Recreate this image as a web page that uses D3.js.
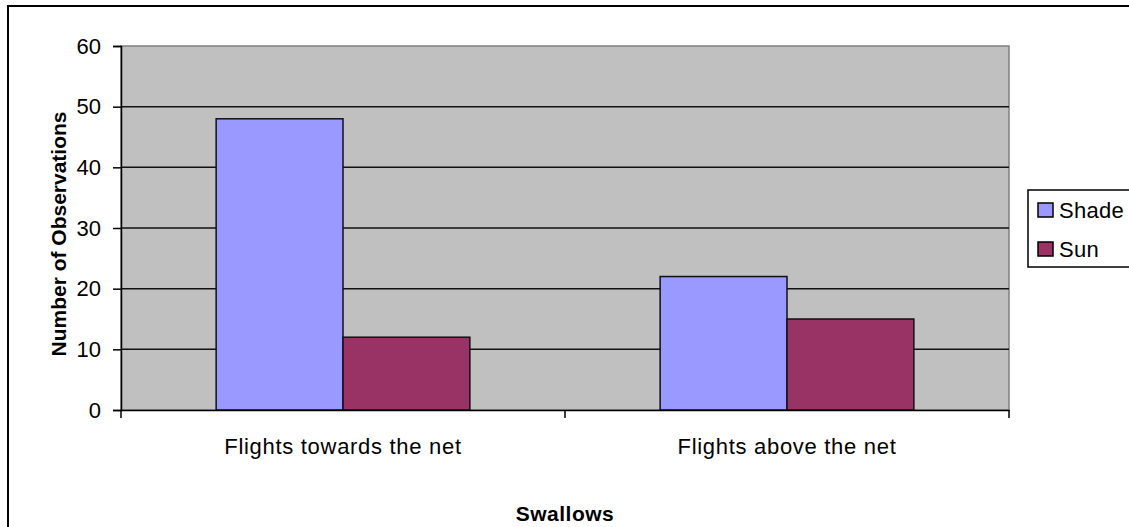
<!DOCTYPE html>
<html>
<head>
<meta charset="utf-8">
<script src="https://cdn.jsdelivr.net/npm/d3@7"></script>
<style>
  html, body { margin: 0; padding: 0; background: #fff; overflow: hidden; }
  svg { display: block; font-family: "Liberation Sans", Arial, sans-serif; }
</style>
</head>
<body>
<svg id="chart" width="1129" height="527"></svg>
<script>
// Swallow flight observations by light condition
const categories = ["Flights towards the net", "Flights above the net"];
const seriesNames = ["Shade", "Sun"];
const shadeValues = [48, 22];
const sunValues = [12, 15];
const yTicks = [0, 10, 20, 30, 40, 50, 60];
const seriesColors = ["#9999ff", "#993366"];

const FONT = "Liberation Sans, Arial, sans-serif";
const svg = d3.select("#chart");
const plot = { left: 121, right: 1009, top: 46, bottom: 410 };

// outer chart frame (runs off the right and bottom edges)
svg.append("rect")
  .attr("x", 8).attr("y", 6)
  .attr("width", 1200).attr("height", 600)
  .attr("fill", "#fff").attr("stroke", "#000").attr("stroke-width", 2);

const x0 = d3.scaleBand().domain(categories).range([plot.left, plot.right]).paddingInner(0).paddingOuter(0);
const x1 = d3.scaleBand().domain(seriesNames).range([0, x0.bandwidth()]).paddingInner(0).paddingOuter(0.75);
const y = d3.scaleLinear().domain([0, 60]).range([plot.bottom, plot.top]);

// plot background
svg.append("rect")
  .attr("x", plot.left).attr("y", plot.top)
  .attr("width", plot.right - plot.left).attr("height", plot.bottom - plot.top)
  .attr("fill", "#c0c0c0").attr("stroke", "#808080").attr("stroke-width", 1.5);

// gridlines
svg.append("g").selectAll("line")
  .data(yTicks.filter(d => d > 0 && d < 60))
  .join("line")
  .attr("x1", plot.left).attr("x2", plot.right)
  .attr("y1", d => y(d)).attr("y2", d => y(d))
  .attr("stroke", "#111").attr("stroke-width", 1.5);

// bars
const rows = categories.map((c, i) => ({ cat: c, vals: [shadeValues[i], sunValues[i]] }));
const groups = svg.append("g").selectAll("g")
  .data(rows).join("g")
  .attr("transform", d => `translate(${x0(d.cat)},0)`);
groups.selectAll("rect")
  .data(d => d.vals.map((v, j) => ({ name: seriesNames[j], v, j })))
  .join("rect")
  .attr("x", d => x1(d.name))
  .attr("y", d => y(d.v))
  .attr("width", x1.bandwidth())
  .attr("height", d => y(0) - y(d.v))
  .attr("fill", d => seriesColors[d.j])
  .attr("stroke", "#111").attr("stroke-width", 1.5);

// y axis
const yAxis = svg.append("g")
  .attr("transform", `translate(${plot.left},0)`)
  .call(d3.axisLeft(y).tickValues(yTicks).tickSize(8).tickPadding(12));
yAxis.select(".domain").attr("stroke-width", 1.5);
yAxis.selectAll(".tick line").attr("stroke-width", 1.5);
yAxis.selectAll("text").attr("font-size", 22).attr("fill", "#000")
  .attr("font-family", FONT);

// x axis
const xAxis = svg.append("g")
  .attr("transform", `translate(0,${plot.bottom})`)
  .call(d3.axisBottom(x0).tickSize(0).tickPadding(28));
xAxis.select(".domain").attr("stroke-width", 1.5);
xAxis.selectAll("text").attr("font-size", 22).attr("fill", "#000")
  .attr("letter-spacing", "0.7px")
  .attr("font-family", FONT);
// category boundary ticks
svg.append("g").selectAll("line")
  .data([plot.left, x0(categories[1]), plot.right])
  .join("line")
  .attr("x1", d => d).attr("x2", d => d)
  .attr("y1", plot.bottom).attr("y2", plot.bottom + 8)
  .attr("stroke", "#000").attr("stroke-width", 1.5);

// axis titles
svg.append("text")
  .attr("x", (plot.left + plot.right) / 2).attr("y", 521)
  .attr("text-anchor", "middle").attr("font-size", 21).attr("font-weight", "bold")
  .attr("letter-spacing", "0.5px")
  .text("Swallows");
svg.append("text")
  .attr("transform", `translate(66,234) rotate(-90)`)
  .attr("text-anchor", "middle").attr("font-size", 21).attr("font-weight", "bold")
  .text("Number of Observations");

// legend
const legend = svg.append("g");
legend.append("rect")
  .attr("x", 1028).attr("y", 190).attr("width", 130).attr("height", 77)
  .attr("fill", "#fff").attr("stroke", "#000").attr("stroke-width", 1.5);
const items = legend.selectAll("g.item").data(seriesNames).join("g")
  .attr("class", "item")
  .attr("transform", (d, i) => `translate(1038,${218 + i * 39})`);
items.append("rect")
  .attr("x", 0).attr("y", -15).attr("width", 15).attr("height", 14)
  .attr("fill", (d, i) => seriesColors[i]).attr("stroke", "#000").attr("stroke-width", 1.5);
items.append("text")
  .attr("x", 21).attr("y", 0).attr("font-size", 22)
  .attr("letter-spacing", "0.3px")
  .text(d => d);
</script>
</body>
</html>
